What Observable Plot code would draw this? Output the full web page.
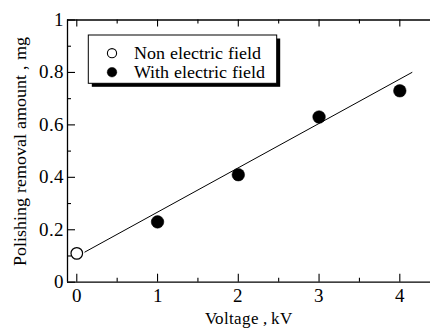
<!DOCTYPE html>
<html><head><meta charset="utf-8">
<script src="https://cdn.jsdelivr.net/npm/d3@7"></script>
<script src="https://cdn.jsdelivr.net/npm/@observablehq/plot@0.6"></script>
<style>
@font-face { font-family: "SerifLocal"; src: local("Liberation Serif"), local("LiberationSerif"), local("LiberationSerif-Regular"); font-display: swap; }
body { margin: 0; background: #fff; font-family: SerifLocal, "Liberation Serif", serif; }
#xlabel { width: 430px; box-sizing: border-box; padding-left: 67px; text-align: center; font-size: 16.5px; line-height: 18px; height: 18px; color: #000; }
</style>
</head><body><div id="chart"></div><div id="xlabel">Voltage , kV</div>
<script>
// ---- data ----
const voltage = [0, 1, 2, 3, 4];
const removal = [0.11, 0.23, 0.41, 0.63, 0.73];
const condition = ["Non electric field", "With electric field", "With electric field", "With electric field", "With electric field"];
const fitVoltage = [0.1, 4.15];
const fitRemoval = [0.115, 0.8];
const xTicks = [0, 1, 2, 3, 4];
const xMinor = [0.5, 1.5, 2.5, 3.5];
const yTicks = [0, 0.2, 0.4, 0.6, 0.8, 1];
const yMinor = [0.1, 0.3, 0.5, 0.7, 0.9];
const legendLabels = ["Non electric field", "With electric field"];
const yLabel = "Polishing removal amount , mg";

const points = voltage.map((v, i) => ({v, r: removal[i], c: condition[i]}));
const fit = fitVoltage.map((v, i) => ({v, r: fitRemoval[i]}));

// ---- layout ----
const W = 430, H = 310, mL = 67, mR = 0, mT = 19.5, mB = 28.3;
const xDom = [-0.115, 4.38], yDom = [0, 1];
const kx = (W - mL - mR) / (xDom[1] - xDom[0]);
const ky = (H - mT - mB) / (yDom[1] - yDom[0]);
const X = p => xDom[0] + (p - mL) / kx;   // pixel -> data (legend decoration only)
const Y = p => yDom[1] - (p - mT) / ky;
const dxU = p => p / kx, dyU = p => p / ky;
const FONT = "SerifLocal, Liberation Serif, serif";

const legendRows = legendLabels.map((l, i) => ({l, i}));
const legendY = [52.7, 71.7];

const chart = Plot.plot({
  width: W, height: H,
  marginLeft: mL, marginRight: mR, marginTop: mT, marginBottom: mB,
  x: {domain: xDom, axis: null},
  y: {domain: yDom, axis: null},
  style: {fontFamily: FONT, fontSize: "18px", color: "#000", background: "#fff"},
  marks: [
    // frame lines
    Plot.ruleY([0], {strokeWidth: 1.3}),
    Plot.ruleY([1], {strokeWidth: 1.3}),
    Plot.ruleX([xDom[0]], {strokeWidth: 1.3}),
    // inward ticks
    Plot.ruleX(xTicks, {x: d => d, y1: 0, y2: dyU(8), strokeWidth: 1.1}),
    Plot.ruleX(xMinor, {x: d => d, y1: 0, y2: dyU(4), strokeWidth: 1.1}),
    Plot.ruleX(xTicks, {x: d => d, y1: 1, y2: 1 - dyU(7), strokeWidth: 1.1}),
    Plot.ruleX(xMinor, {x: d => d, y1: 1, y2: 1 - dyU(4), strokeWidth: 1.1}),
    Plot.ruleY(yTicks, {y: d => d, x1: xDom[0], x2: xDom[0] + dxU(8), strokeWidth: 1.1}),
    Plot.ruleY(yMinor, {y: d => d, x1: xDom[0], x2: xDom[0] + dxU(4), strokeWidth: 1.1}),
    // tick labels
    Plot.axisX({ticks: xTicks, tickSize: 0, tickPadding: 7, fontSize: 18.5, fontFamily: FONT, tickFormat: d => String(d), label: null}),
    Plot.axisY({ticks: yTicks, tickSize: 0, tickPadding: 4, fontSize: 18.5, fontFamily: FONT, tickFormat: d => (d === 0 || d === 1) ? String(d) : d.toFixed(1), label: null}),
    // y axis title
    Plot.text([yLabel], {frameAnchor: "left", dx: -47, rotate: -90, fontSize: 18, fontFamily: FONT, textAnchor: "middle", lineAnchor: "middle"}),
    // fit line
    Plot.line(fit, {x: "v", y: "r", stroke: "#000", strokeWidth: 1}),
    // data points
    Plot.dot(points.filter(d => d.c === legendLabels[0]), {x: "v", y: "r", r: 5.8, fill: "#fff", stroke: "#000", strokeWidth: 1.2}),
    Plot.dot(points.filter(d => d.c === legendLabels[1]), {x: "v", y: "r", r: 6.3, fill: "#000", stroke: "#000", strokeWidth: 0.5}),
    // legend (box with drop shadow)
    Plot.rect([0], {x1: X(88.3 + 3.5), x2: X(276.7 + 3.5), y1: Y(35 + 3.5), y2: Y(83.3 + 3.5), fill: "#000"}),
    Plot.rect([0], {x1: X(88.3), x2: X(276.7), y1: Y(35), y2: Y(83.3), fill: "#fff", stroke: "#000", strokeWidth: 1}),
    Plot.dot(legendRows.slice(0, 1), {x: X(111.5), y: d => Y(legendY[d.i]), r: 4.6, fill: "#fff", stroke: "#000", strokeWidth: 1.1}),
    Plot.dot(legendRows.slice(1), {x: X(111.5), y: d => Y(legendY[d.i]), r: 4.8, fill: "#000", stroke: "#000", strokeWidth: 0.5}),
    Plot.text(legendRows, {x: X(133), y: d => Y(legendY[d.i]), text: "l", textAnchor: "start", lineAnchor: "middle", fontSize: 17.5, fontFamily: FONT})
  ]
});
document.getElementById("chart").appendChild(chart);
</script>
</body></html>
